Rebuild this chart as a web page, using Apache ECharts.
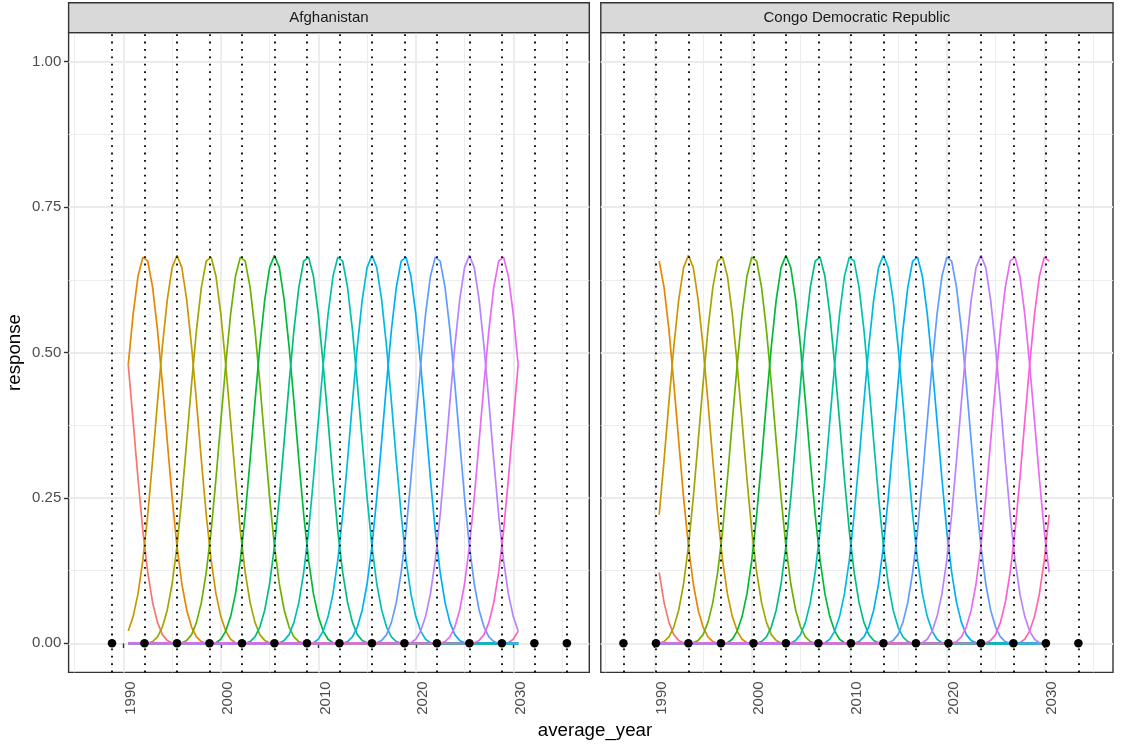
<!DOCTYPE html>
<html><head><meta charset="utf-8">
<script src="https://cdn.jsdelivr.net/npm/echarts@6/dist/echarts.min.js"></script>
<style>html,body{margin:0;padding:0;background:#fff}#c{width:1121px;height:744px}</style>
</head><body><div id="c"></div>
<script>
// ---------- data ----------
const panelNames = ['Afghanistan', 'Congo Democratic Republic'];
const xGrid = [1990.5,1991,1991.5,1992,1992.5,1993,1993.5,1994,1994.5,1995,1995.5,1996,1996.5,1997,1997.5,1998,1998.5,1999,1999.5,2000,
  2000.5,2001,2001.5,2002,2002.5,2003,2003.5,2004,2004.5,2005,2005.5,2006,2006.5,2007,2007.5,2008,2008.5,2009,2009.5,2010,
  2010.5,2011,2011.5,2012,2012.5,2013,2013.5,2014,2014.5,2015,2015.5,2016,2016.5,2017,2017.5,2018,2018.5,2019,2019.5,2020,
  2020.5,2021,2021.5,2022,2022.5,2023,2023.5,2024,2024.5,2025,2025.5,2026,2026.5,2027,2027.5,2028,2028.5,2029,2029.5,2030,2030.5];
const xTicks = [1990, 2000, 2010, 2020, 2030];
const xTickLabels = ['1990', '2000', '2010', '2020', '2030'];
const xMinor = [1985, 1995, 2005, 2015, 2025, 2035];
const yTicks = [0, 0.25, 0.5, 0.75, 1];
const yTickLabels = ['0.00', '0.25', '0.50', '0.75', '1.00'];
const yMinor = [0.125, 0.375, 0.625, 0.875];

const afgKnots = [1988.833,1992.167,1995.5,1998.833,2002.167,2005.5,2008.833,2012.167,2015.5,2018.833,2022.167,2025.5,2028.833,2032.167,2035.5];
const congoKnots = [1986.833,1990.167,1993.5,1996.833,2000.167,2003.5,2006.833,2010.167,2013.5,2016.833,2020.167,2023.5,2026.833,2030.167,2033.5];

// index into xGrid where each basis curve's non-zero stretch starts (zero elsewhere)
const afgStart = [0,0,0,4,11,17,24,31,37,44,51,57,64,71,77];
const afgValues = [
  [0.479,0.382,0.283,0.193,0.122,0.07,0.036,0.015,0.005,0.001],
  [0.479,0.566,0.631,0.664,0.657,0.612,0.539,0.447,0.348,0.251,0.167,0.102,0.057,0.028,0.011,0.003],
  [0.021,0.046,0.085,0.143,0.221,0.315,0.415,0.51,0.59,0.646,0.667,0.646,0.59,0.51,0.415,0.315,0.221,0.143,0.085,0.046,0.021,0.007,0.001],
  [0,0.003,0.011,0.028,0.057,0.102,0.167,0.251,0.348,0.447,0.539,0.612,0.657,0.664,0.631,0.566,0.479,0.382,0.283,0.193,0.122,0.07,0.036,0.015,0.005,0.001],
  [0.001,0.005,0.015,0.036,0.07,0.122,0.193,0.283,0.382,0.479,0.566,0.631,0.664,0.657,0.612,0.539,0.447,0.348,0.251,0.167,0.102,0.057,0.028,0.011,0.003,0],
  [0,0.001,0.007,0.021,0.046,0.085,0.143,0.221,0.315,0.415,0.51,0.59,0.646,0.667,0.646,0.59,0.51,0.415,0.315,0.221,0.143,0.085,0.046,0.021,0.007,0.001,0],
  [0,0.003,0.011,0.028,0.057,0.102,0.167,0.251,0.348,0.447,0.539,0.612,0.657,0.664,0.631,0.566,0.479,0.382,0.283,0.193,0.122,0.07,0.036,0.015,0.005,0.001],
  [0.001,0.005,0.015,0.036,0.07,0.122,0.193,0.283,0.382,0.479,0.566,0.631,0.664,0.657,0.612,0.539,0.447,0.348,0.251,0.167,0.102,0.057,0.028,0.011,0.003,0],
  [0,0.001,0.007,0.021,0.046,0.085,0.143,0.221,0.315,0.415,0.51,0.59,0.646,0.667,0.646,0.59,0.51,0.415,0.315,0.221,0.143,0.085,0.046,0.021,0.007,0.001,0],
  [0,0.003,0.011,0.028,0.057,0.102,0.167,0.251,0.348,0.447,0.539,0.612,0.657,0.664,0.631,0.566,0.479,0.382,0.283,0.193,0.122,0.07,0.036,0.015,0.005,0.001],
  [0.001,0.005,0.015,0.036,0.07,0.122,0.193,0.283,0.382,0.479,0.566,0.631,0.664,0.657,0.612,0.539,0.447,0.348,0.251,0.167,0.102,0.057,0.028,0.011,0.003,0],
  [0,0.001,0.007,0.021,0.046,0.085,0.143,0.221,0.315,0.415,0.51,0.59,0.646,0.667,0.646,0.59,0.51,0.415,0.315,0.221,0.143,0.085,0.046,0.021],
  [0,0.003,0.011,0.028,0.057,0.102,0.167,0.251,0.348,0.447,0.539,0.612,0.657,0.664,0.631,0.566,0.479],
  [0.001,0.005,0.015,0.036,0.07,0.122,0.193,0.283,0.382,0.479],
  [0,0.001,0.007,0.021]
];
const congoStart = [0,0,0,0,7,13,20,27,33,40,47,53,60,67,73];
const congoValues = [
  [0.122,0.07,0.036,0.015,0.005,0.001],
  [0.657,0.612,0.539,0.447,0.348,0.251,0.167,0.102,0.057,0.028,0.011,0.003],
  [0.221,0.315,0.415,0.51,0.59,0.646,0.667,0.646,0.59,0.51,0.415,0.315,0.221,0.143,0.085,0.046,0.021,0.007,0.001],
  [0,0.003,0.011,0.028,0.057,0.102,0.167,0.251,0.348,0.447,0.539,0.612,0.657,0.664,0.631,0.566,0.479,0.382,0.283,0.193,0.122,0.07,0.036,0.015,0.005,0.001],
  [0.001,0.005,0.015,0.036,0.07,0.122,0.193,0.283,0.382,0.479,0.566,0.631,0.664,0.657,0.612,0.539,0.447,0.348,0.251,0.167,0.102,0.057,0.028,0.011,0.003,0],
  [0,0.001,0.007,0.021,0.046,0.085,0.143,0.221,0.315,0.415,0.51,0.59,0.646,0.667,0.646,0.59,0.51,0.415,0.315,0.221,0.143,0.085,0.046,0.021,0.007,0.001,0],
  [0,0.003,0.011,0.028,0.057,0.102,0.167,0.251,0.348,0.447,0.539,0.612,0.657,0.664,0.631,0.566,0.479,0.382,0.283,0.193,0.122,0.07,0.036,0.015,0.005,0.001],
  [0.001,0.005,0.015,0.036,0.07,0.122,0.193,0.283,0.382,0.479,0.566,0.631,0.664,0.657,0.612,0.539,0.447,0.348,0.251,0.167,0.102,0.057,0.028,0.011,0.003,0],
  [0,0.001,0.007,0.021,0.046,0.085,0.143,0.221,0.315,0.415,0.51,0.59,0.646,0.667,0.646,0.59,0.51,0.415,0.315,0.221,0.143,0.085,0.046,0.021,0.007,0.001,0],
  [0,0.003,0.011,0.028,0.057,0.102,0.167,0.251,0.348,0.447,0.539,0.612,0.657,0.664,0.631,0.566,0.479,0.382,0.283,0.193,0.122,0.07,0.036,0.015,0.005,0.001],
  [0.001,0.005,0.015,0.036,0.07,0.122,0.193,0.283,0.382,0.479,0.566,0.631,0.664,0.657,0.612,0.539,0.447,0.348,0.251,0.167,0.102,0.057,0.028,0.011,0.003,0],
  [0,0.001,0.007,0.021,0.046,0.085,0.143,0.221,0.315,0.415,0.51,0.59,0.646,0.667,0.646,0.59,0.51,0.415,0.315,0.221,0.143,0.085,0.046,0.021,0.007,0.001,0],
  [0,0.003,0.011,0.028,0.057,0.102,0.167,0.251,0.348,0.447,0.539,0.612,0.657,0.664,0.631,0.566,0.479,0.382,0.283,0.193,0.122],
  [0.001,0.005,0.015,0.036,0.07,0.122,0.193,0.283,0.382,0.479,0.566,0.631,0.664,0.657],
  [0,0.001,0.007,0.021,0.046,0.085,0.143,0.221]
];
const basisColors = ['#F8766D','#E58700','#C99800','#A3A500','#6BB100','#00BA38','#00BF7D','#00C0AF','#00BCD8','#00B0F6','#619CFF','#B983FF','#E76BF3','#FD61D1','#FF67A4'];

// ---------- layout ----------
const FONT = '"Liberation Sans", Arial, Helvetica, sans-serif';
const panelTop = 32.6, panelH = 639.8;
const panels = [
  {left: 68.6, width: 520.7, xmin: 1984.38, xmax: 2037.80, knots: afgKnots, starts: afgStart, values: afgValues},
  {left: 600.8, width: 512.2, xmin: 1984.51, xmax: 2037.05, knots: congoKnots, starts: congoStart, values: congoValues}
];
const stripTop = 2.75;

const grids = [], xAxes = [], yAxes = [], series = [], graphics = [];
panels.forEach((p, g) => {
  grids.push({left: p.left, top: panelTop, width: p.width, height: panelH, show: true,
    backgroundColor: '#fff', borderColor: '#333333', borderWidth: 1.4, containLabel: false});
});
// main axes (0,1) then minor-grid axes (2,3)
panels.forEach((p, g) => {
  xAxes.push({type: 'value', gridIndex: g, min: p.xmin, max: p.xmax, position: 'bottom',
    axisLine: {show: false},
    axisTick: {show: true, customValues: xTicks, length: 4.7, lineStyle: {color: '#333333', width: 1.4}},
    axisLabel: {show: true, customValues: xTicks, rotate: 90, margin: 9, verticalAlign: 'top',
      color: '#4D4D4D', fontSize: 15, fontFamily: FONT,
      formatter: v => xTickLabels[xTicks.indexOf(v)]},
    splitLine: {show: true, lineStyle: {color: '#EBEBEB', width: 1.8}}});
  yAxes.push({type: 'value', gridIndex: g, min: -0.05, max: 1.05,
    axisLine: {show: false},
    axisTick: {show: g === 0, customValues: yTicks, length: 4.7, lineStyle: {color: '#333333', width: 1.4}},
    axisLabel: {show: g === 0, customValues: yTicks, margin: 7.3, color: '#4D4D4D', fontSize: 15, fontFamily: FONT,
      formatter: v => yTickLabels[yTicks.indexOf(v)]},
    splitLine: {show: true, lineStyle: {color: '#EBEBEB', width: 1.8}}});
});
panels.forEach((p, g) => {
  xAxes.push({type: 'value', gridIndex: g, min: p.xmin, max: p.xmax, position: 'top',
    axisLine: {show: false}, axisTick: {show: false, customValues: xMinor},
    axisLabel: {show: false, customValues: xMinor},
    splitLine: {show: true, lineStyle: {color: '#EBEBEB', width: 0.9}}});
  yAxes.push({type: 'value', gridIndex: g, min: -0.05, max: 1.05, position: 'right',
    axisLine: {show: false}, axisTick: {show: false, customValues: yMinor},
    axisLabel: {show: false, customValues: yMinor},
    splitLine: {show: true, lineStyle: {color: '#EBEBEB', width: 0.9}}});
});

panels.forEach((p, g) => {
  // knot markers: dotted vertical lines
  series.push({type: 'scatter', xAxisIndex: g, yAxisIndex: g, symbolSize: 0, silent: true, z: 2,
    data: p.knots.map(k => [k, 0]),
    markLine: {silent: true, symbol: ['none', 'none'], label: {show: false}, animation: false,
      lineStyle: {color: '#000', type: [1.8, 5.6], width: 1.8, cap: 'butt'},
      data: p.knots.map(k => ({xAxis: k}))}});
  // basis curves (last one first so it sits underneath)
  const order = [14, 0, 1, 2, 3, 4, 5, 6, 7, 8, 9, 10, 11, 12, 13];
  order.forEach(j => {
    const st = p.starts[j], vals = p.values[j];
    series.push({type: 'line', xAxisIndex: g, yAxisIndex: g, z: 3, silent: true,
      symbol: 'none', showSymbol: false, animation: false,
      lineStyle: {color: basisColors[j], width: 1.7},
      itemStyle: {color: basisColors[j]},
      data: xGrid.map((x, i) => [x, (i >= st && i < st + vals.length) ? vals[i - st] : 0])});
  });
  // knot points on y = 0
  series.push({type: 'scatter', xAxisIndex: g, yAxisIndex: g, z: 4, silent: true,
    symbolSize: 8.5, itemStyle: {color: '#000', opacity: 1},
    data: p.knots.map(k => [k, 0])});
  // strip
  graphics.push({type: 'rect', shape: {x: p.left, y: stripTop, width: p.width, height: panelTop - stripTop},
    style: {fill: '#D9D9D9', stroke: '#333333', lineWidth: 1.4}, z: 10});
  graphics.push({type: 'text', x: p.left + p.width / 2, y: (stripTop + panelTop) / 2,
    style: {text: panelNames[g], fill: '#1A1A1A', font: '15px ' + FONT, textAlign: 'center', textVerticalAlign: 'middle'}, z: 11});
});
graphics.push({type: 'text', x: 595, y: 731,
  style: {text: 'average_year', fill: '#000', font: '18.7px ' + FONT, textAlign: 'center', textVerticalAlign: 'middle'}, z: 11});
graphics.push({type: 'text', x: 14.5, y: panelTop + panelH / 2, rotation: Math.PI / 2,
  style: {text: 'response', fill: '#000', font: '18.7px ' + FONT, textAlign: 'center', textVerticalAlign: 'middle'}, z: 11});

const chart = echarts.init(document.getElementById('c'), null, {renderer: 'canvas'});
chart.setOption({
  animation: false,
  backgroundColor: '#fff',
  textStyle: {fontFamily: FONT},
  grid: grids, xAxis: xAxes, yAxis: yAxes, series: series, graphic: graphics
});
</script></body></html>
